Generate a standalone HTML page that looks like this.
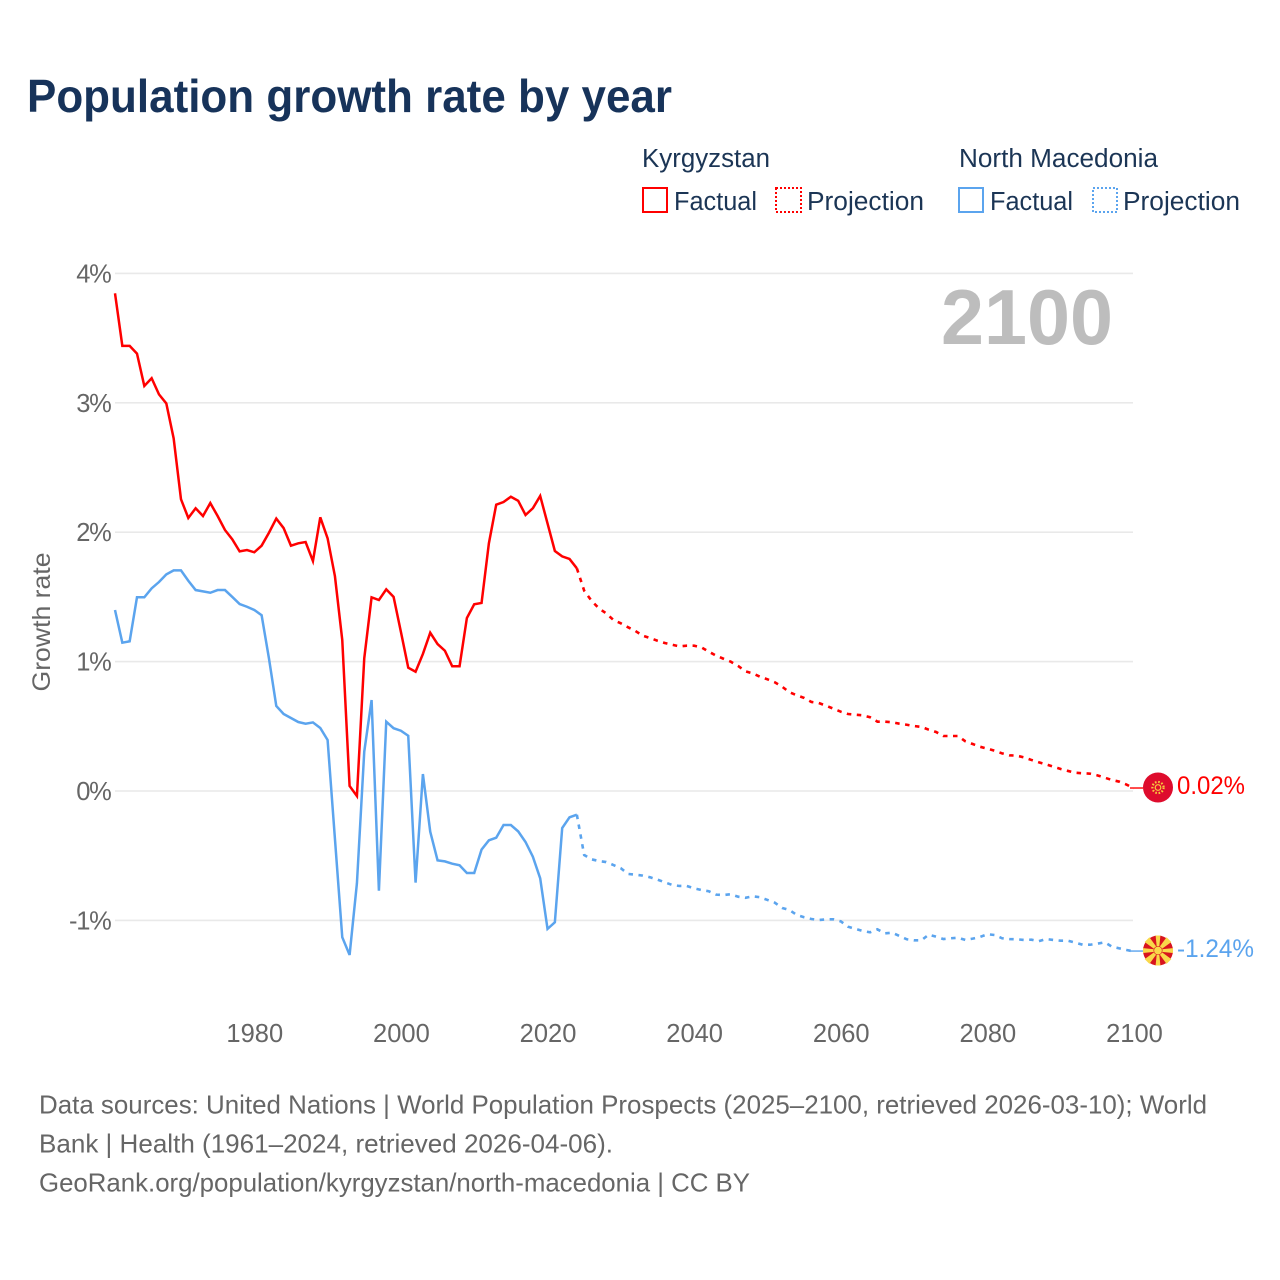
<!DOCTYPE html>
<html lang="en">
<head>
<meta charset="utf-8">
<title>Population growth rate by year</title>
<style>
html,body{margin:0;padding:0;background:#fff;}
svg{display:block;font-family:"Liberation Sans",sans-serif;}
</style>
</head>
<body>
<svg id="chart" width="1280" height="1280" viewBox="0 0 1280 1280" xmlns="http://www.w3.org/2000/svg">
  <rect x="0" y="0" width="1280" height="1280" fill="#ffffff"/>
  <text x="27" y="112" font-size="46" font-weight="700" fill="#17335a" textLength="645" lengthAdjust="spacingAndGlyphs">Population growth rate by year</text>

  <g font-size="25.5" fill="#1b3555">
    <text x="642" y="167" textLength="128" lengthAdjust="spacingAndGlyphs">Kyrgyzstan</text>
    <text x="959" y="167" textLength="199" lengthAdjust="spacingAndGlyphs">North Macedonia</text>
    <g>
      <rect x="643" y="188" width="24" height="24" fill="none" stroke="#ff0000" stroke-width="2" shape-rendering="crispEdges"/>
      <text x="674" y="210" textLength="83" lengthAdjust="spacingAndGlyphs">Factual</text>
    </g>
    <g>
      <rect x="776" y="188" width="25" height="24" fill="none" stroke="#ff0000" stroke-width="2" stroke-dasharray="2 2" shape-rendering="crispEdges"/>
      <text x="807" y="210" textLength="117" lengthAdjust="spacingAndGlyphs">Projection</text>
    </g>
    <g>
      <rect x="959" y="188" width="24" height="24" fill="none" stroke="#5ba4ee" stroke-width="2" shape-rendering="crispEdges"/>
      <text x="990" y="210" textLength="83" lengthAdjust="spacingAndGlyphs">Factual</text>
    </g>
    <g>
      <rect x="1093" y="188" width="24" height="24" fill="none" stroke="#5ba4ee" stroke-width="2" stroke-dasharray="2 2" shape-rendering="crispEdges"/>
      <text x="1123" y="210" textLength="117" lengthAdjust="spacingAndGlyphs">Projection</text>
    </g>
  </g>

  <g id="grid"></g>
  <g id="yticks"></g>
  <g id="xticks"></g>
  <text transform="translate(50,622) rotate(-90)" text-anchor="middle" font-size="25" fill="#666666" textLength="139" lengthAdjust="spacingAndGlyphs">Growth rate</text>
  <text x="1113" y="344" text-anchor="end" font-size="78" font-weight="700" fill="#bdbdbd" textLength="172" lengthAdjust="spacingAndGlyphs">2100</text>

  <g id="series"></g>

  <g id="flag-kg">
    <circle cx="0" cy="0" r="15" fill="#de0c2d"/>
    <circle cx="0" cy="0" r="5.6" fill="none" stroke="#f7c93e" stroke-width="2.2" stroke-dasharray="1.6 1.7"/>
    <circle cx="0" cy="0" r="2.8" fill="none" stroke="#f7c93e" stroke-width="1.2"/>
  </g>
  <g id="flag-mk">
    <circle cx="0" cy="0" r="15" fill="#d8141e"/>
    <g fill="#f9d84a">
      <polygon points="-2.4,-15 2.4,-15 0.9,0 -0.9,0"/>
      <polygon points="-2.4,-15 2.4,-15 0.9,0 -0.9,0" transform="rotate(90)"/>
      <polygon points="-2.4,-15 2.4,-15 0.9,0 -0.9,0" transform="rotate(180)"/>
      <polygon points="-2.4,-15 2.4,-15 0.9,0 -0.9,0" transform="rotate(270)"/>
      <polygon points="-3.4,-15.5 3.4,-15.5 0.9,0 -0.9,0" transform="rotate(45)"/>
      <polygon points="-3.4,-15.5 3.4,-15.5 0.9,0 -0.9,0" transform="rotate(135)"/>
      <polygon points="-3.4,-15.5 3.4,-15.5 0.9,0 -0.9,0" transform="rotate(225)"/>
      <polygon points="-3.4,-15.5 3.4,-15.5 0.9,0 -0.9,0" transform="rotate(315)"/>
      <circle cx="0" cy="0" r="4.2" stroke="#d8141e" stroke-width="0.6"/>
    </g>
  </g>
  <text id="label-kg" x="1177" font-size="25" fill="#ff0000" textLength="68" lengthAdjust="spacingAndGlyphs"></text>
  <text id="label-mk" x="1177" font-size="25" fill="#5ba4ee" textLength="77" lengthAdjust="spacingAndGlyphs"></text>

  <g font-size="26" fill="#666666">
    <text x="39" y="1113.5" textLength="1168" lengthAdjust="spacingAndGlyphs">Data sources: United Nations | World Population Prospects (2025–2100, retrieved 2026-03-10); World</text>
    <text x="39" y="1152.5" textLength="574" lengthAdjust="spacingAndGlyphs">Bank | Health (1961–2024, retrieved 2026-04-06).</text>
    <text x="39" y="1191.5" textLength="711" lengthAdjust="spacingAndGlyphs">GeoRank.org/population/kyrgyzstan/north-macedonia | CC BY</text>
  </g>
</svg>

<script>
const factualStartYear = 1961;
const projectionStartYear = 2024;
const yTickValues = [4, 3, 2, 1, 0, -1];
const yTickLabels = ["4%", "3%", "2%", "1%", "0%", "-1%"];
const xTickYears = [1980, 2000, 2020, 2040, 2060, 2080, 2100];
const kyrgyzstanEndLabel = "0.02%";
const macedoniaEndLabel = "-1.24%";

const kyrgyzstanFactual = [3.846,3.44,3.44,3.38,3.13,3.19,3.065,2.995,2.725,2.255,2.11,2.185,2.125,2.225,2.125,2.017,1.945,1.852,1.862,1.845,1.896,1.996,2.105,2.032,1.896,1.914,1.924,1.777,2.115,1.953,1.66,1.167,0.039,-0.039,1.025,1.497,1.476,1.558,1.5,1.23,0.953,0.922,1.059,1.223,1.136,1.084,0.964,0.964,1.337,1.443,1.453,1.914,2.213,2.233,2.274,2.243,2.133,2.185,2.28,2.068,1.855,1.813,1.793,1.721];
const kyrgyzstanProjection = [1.721,1.548,1.47,1.412,1.373,1.321,1.296,1.265,1.236,1.2,1.182,1.161,1.144,1.13,1.118,1.123,1.123,1.11,1.077,1.046,1.022,0.999,0.966,0.925,0.909,0.883,0.863,0.84,0.806,0.763,0.74,0.719,0.688,0.68,0.659,0.636,0.613,0.595,0.59,0.585,0.57,0.536,0.536,0.531,0.52,0.512,0.502,0.495,0.474,0.456,0.425,0.425,0.425,0.384,0.363,0.342,0.327,0.311,0.291,0.276,0.273,0.26,0.24,0.222,0.206,0.188,0.17,0.155,0.141,0.137,0.134,0.121,0.103,0.085,0.072,0.049,0.02];
const macedoniaFactual = [1.399,1.146,1.157,1.497,1.497,1.566,1.615,1.674,1.705,1.705,1.625,1.553,1.543,1.532,1.553,1.553,1.5,1.445,1.424,1.399,1.358,1.025,0.657,0.595,0.564,0.533,0.52,0.53,0.487,0.394,-0.369,-1.13,-1.267,-0.713,0.304,0.703,-0.77,0.536,0.485,0.466,0.427,-0.708,0.131,-0.314,-0.536,-0.544,-0.562,-0.574,-0.634,-0.634,-0.453,-0.381,-0.361,-0.263,-0.263,-0.312,-0.394,-0.508,-0.675,-1.066,-1.015,-0.286,-0.203,-0.183];
const macedoniaProjection = [-0.183,-0.495,-0.528,-0.541,-0.549,-0.572,-0.597,-0.641,-0.647,-0.654,-0.667,-0.685,-0.706,-0.726,-0.734,-0.734,-0.752,-0.765,-0.775,-0.801,-0.804,-0.798,-0.817,-0.825,-0.814,-0.821,-0.842,-0.863,-0.904,-0.92,-0.958,-0.976,-0.989,-0.997,-0.992,-0.992,-1.007,-1.049,-1.066,-1.082,-1.092,-1.069,-1.1,-1.095,-1.12,-1.146,-1.154,-1.154,-1.11,-1.126,-1.144,-1.138,-1.134,-1.151,-1.141,-1.128,-1.107,-1.113,-1.138,-1.144,-1.146,-1.151,-1.149,-1.161,-1.144,-1.151,-1.157,-1.157,-1.172,-1.188,-1.188,-1.18,-1.169,-1.203,-1.216,-1.229,-1.24];

const SVG_NS = "http://www.w3.org/2000/svg";
function xScale(year) { return 115 + (year - 1961) * (1134 - 115) / 139; }
function yScale(v) { return 791 - v * 129.4; }
function pathFrom(values, startYear) {
  return values.map(function (v, i) {
    return (i ? "L" : "M") + xScale(startYear + i).toFixed(2) + " " + yScale(v).toFixed(2);
  }).join(" ");
}
function make(tag, parent, attrs, text) {
  const el = document.createElementNS(SVG_NS, tag);
  Object.keys(attrs).forEach(function (k) { el.setAttribute(k, attrs[k]); });
  if (text !== undefined) el.textContent = text;
  parent.appendChild(el);
  return el;
}

const gridGroup = document.getElementById("grid");
const yTickGroup = document.getElementById("yticks");
const xTickGroup = document.getElementById("xticks");
const seriesGroup = document.getElementById("series");

yTickValues.forEach(function (v, i) {
  const y = yScale(v);
  const line = make("line", gridGroup, { x1: 115, x2: 1133, y1: y, y2: y, stroke: "#e9e9e9", "stroke-width": 1.6 });
  
  
  const label = make("text", yTickGroup, { x: 110.5, y: y + 9, "text-anchor": "end", "font-size": 25.5, "letter-spacing": "-1.3", fill: "#666666" }, yTickLabels[i]);
  
  
});

xTickYears.forEach(function (year) {
  const label = make("text", xTickGroup, { x: xScale(year) + 0.5, y: 1042, "text-anchor": "middle", "font-size": 25.5, fill: "#666666" }, String(year));
  
  
});

const kgFactualLine = make("path", seriesGroup, { d: pathFrom(kyrgyzstanFactual, factualStartYear), fill: "none", stroke: "#ff0000", "stroke-width": 2.5, "stroke-linejoin": "miter" });


const mkFactualLine = make("path", seriesGroup, { d: pathFrom(macedoniaFactual, factualStartYear), fill: "none", stroke: "#5ba4ee", "stroke-width": 2.5, "stroke-linejoin": "miter" });


const kgProjectionLine = make("path", seriesGroup, { d: pathFrom(kyrgyzstanProjection, projectionStartYear), fill: "none", stroke: "#ff0000", "stroke-width": 2.6, "stroke-dasharray": "4.5 5.5" });


const mkProjectionLine = make("path", seriesGroup, { d: pathFrom(macedoniaProjection, projectionStartYear), fill: "none", stroke: "#5ba4ee", "stroke-width": 2.6, "stroke-dasharray": "4.5 5.5" });



const kgEndY = yScale(kyrgyzstanProjection[kyrgyzstanProjection.length - 1]);
const mkEndY = yScale(macedoniaProjection[macedoniaProjection.length - 1]);
const endX = xScale(2100);

const kgConnector = make("line", seriesGroup, { x1: endX - 4, x2: 1143, y1: kgEndY - 0.4, y2: kgEndY - 0.4, stroke: "#ff0000", "stroke-width": 1.4 });


const mkConnector = make("line", seriesGroup, { x1: endX - 4, x2: 1143, y1: mkEndY - 0.4, y2: mkEndY - 0.4, stroke: "#5ba4ee", "stroke-width": 1.4 });



document.getElementById("flag-kg").setAttribute("transform", "translate(1158," + (kgEndY - 0.9).toFixed(2) + ")");
document.getElementById("flag-mk").setAttribute("transform", "translate(1158," + (mkEndY - 0.9).toFixed(2) + ")");

const kgLabel = document.getElementById("label-kg");
kgLabel.textContent = kyrgyzstanEndLabel;
kgLabel.setAttribute("y", (kgEndY + 5.6).toFixed(2));
const mkLabel = document.getElementById("label-mk");
mkLabel.textContent = macedoniaEndLabel;
mkLabel.setAttribute("y", (mkEndY + 5.6).toFixed(2));
</script>
</body>
</html>
